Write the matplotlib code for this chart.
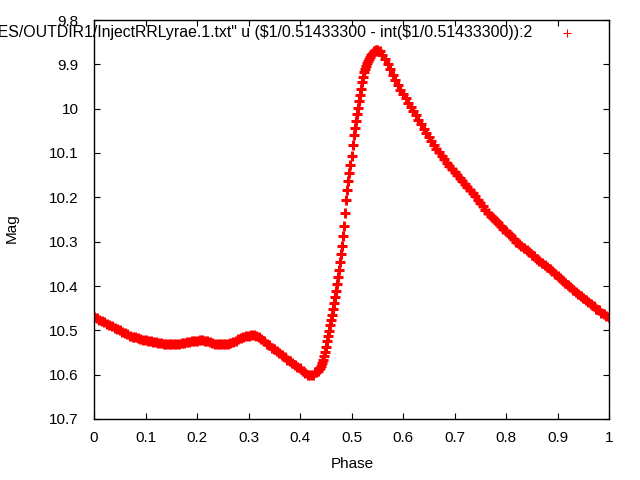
import matplotlib
matplotlib.use('Agg')
import matplotlib.pyplot as plt
import numpy as np

plt.rcParams['font.family'] = ['Liberation Sans', 'DejaVu Sans']

# light curve folded on P = 0.514333 d
phase_flat = [0.000, 0.005, 0.010, 0.015, 0.020, 0.025, 0.030, 0.035, 0.040, 0.045,
              0.050, 0.055, 0.060, 0.065, 0.070, 0.075, 0.080, 0.085, 0.090, 0.095,
              0.100, 0.105, 0.110, 0.115, 0.120, 0.125, 0.130, 0.135, 0.140, 0.145,
              0.150, 0.155, 0.160, 0.165, 0.170, 0.175, 0.180, 0.185, 0.190, 0.195,
              0.200, 0.205, 0.210, 0.215, 0.220, 0.225, 0.230, 0.235, 0.240, 0.245,
              0.250, 0.255, 0.260, 0.265, 0.270, 0.275, 0.280, 0.285, 0.290, 0.295,
              0.300, 0.305, 0.310, 0.315, 0.320, 0.325, 0.330, 0.335, 0.340, 0.345,
              0.350, 0.355, 0.360, 0.365, 0.370, 0.375, 0.380, 0.385, 0.390, 0.395,
              0.400, 0.405, 0.410, 0.415, 0.420, 0.425, 0.430]
mag_flat = [10.470, 10.473, 10.476, 10.479, 10.482, 10.485, 10.487, 10.490, 10.494, 10.497,
            10.500, 10.503, 10.506, 10.509, 10.512, 10.514, 10.516, 10.518, 10.519, 10.521,
            10.522, 10.524, 10.525, 10.526, 10.527, 10.528, 10.529, 10.530, 10.530, 10.531,
            10.531, 10.531, 10.530, 10.530, 10.529, 10.528, 10.527, 10.526, 10.525, 10.524,
            10.523, 10.522, 10.522, 10.523, 10.524, 10.526, 10.528, 10.530, 10.531, 10.531,
            10.531, 10.531, 10.530, 10.528, 10.526, 10.523, 10.520, 10.517, 10.515, 10.513,
            10.512, 10.511, 10.511, 10.512, 10.515, 10.520, 10.525, 10.530, 10.534, 10.539,
            10.543, 10.547, 10.551, 10.556, 10.561, 10.566, 10.570, 10.574, 10.578, 10.582,
            10.586, 10.591, 10.596, 10.600, 10.601, 10.600, 10.595]

phase_rise = [0.432, 0.434, 0.436, 0.438, 0.440, 0.442, 0.444, 0.446, 0.448, 0.450,
              0.452, 0.454, 0.456, 0.458, 0.460, 0.462, 0.464, 0.466, 0.468, 0.470,
              0.472, 0.474, 0.476, 0.478, 0.480, 0.482, 0.484, 0.486, 0.488, 0.490,
              0.492, 0.494, 0.496, 0.498, 0.500, 0.502, 0.504, 0.506, 0.508, 0.510,
              0.512, 0.514, 0.516, 0.518, 0.520, 0.522, 0.524, 0.526, 0.528, 0.530,
              0.532, 0.534, 0.536, 0.538, 0.540, 0.542, 0.544, 0.546, 0.548]
mag_rise = [10.593, 10.591, 10.588, 10.585, 10.580, 10.574, 10.567, 10.558, 10.548, 10.537,
            10.525, 10.513, 10.501, 10.489, 10.477, 10.465, 10.452, 10.439, 10.425, 10.411,
            10.396, 10.380, 10.363, 10.345, 10.327, 10.309, 10.288, 10.264, 10.236, 10.205,
            10.183, 10.163, 10.146, 10.127, 10.106, 10.082, 10.060, 10.043, 10.028, 10.013,
            9.998, 9.983, 9.969, 9.955, 9.940, 9.928, 9.918, 9.910, 9.904, 9.898,
            9.892, 9.887, 9.883, 9.880, 9.877, 9.874, 9.871, 9.869, 9.868]

phase_fall = [0.550, 0.555, 0.560, 0.565, 0.570, 0.575, 0.580, 0.585, 0.590, 0.595,
              0.600, 0.605, 0.610, 0.615, 0.620, 0.625, 0.630, 0.635, 0.640, 0.645,
              0.650, 0.655, 0.660, 0.665, 0.670, 0.675, 0.680, 0.685, 0.690, 0.695,
              0.700, 0.705, 0.710, 0.715, 0.720, 0.725, 0.730, 0.735, 0.740, 0.745,
              0.750, 0.755, 0.760, 0.765, 0.770, 0.775, 0.780, 0.785, 0.790, 0.795,
              0.800, 0.805, 0.810, 0.815, 0.820, 0.825, 0.830, 0.835, 0.840, 0.845,
              0.850, 0.855, 0.860, 0.865, 0.870, 0.875, 0.880, 0.885, 0.890, 0.895,
              0.900, 0.905, 0.910, 0.915, 0.920, 0.925, 0.930, 0.935, 0.940, 0.945,
              0.950, 0.955, 0.960, 0.965, 0.970, 0.975, 0.980, 0.985, 0.990, 0.995,
              1.000]
mag_fall = [9.868, 9.870, 9.878, 9.888, 9.899, 9.911, 9.923, 9.935, 9.946, 9.957,
            9.967, 9.977, 9.987, 9.996, 10.005, 10.015, 10.025, 10.035, 10.045, 10.055,
            10.065, 10.074, 10.082, 10.090, 10.098, 10.106, 10.114, 10.122, 10.129, 10.136,
            10.143, 10.150, 10.157, 10.164, 10.171, 10.177, 10.184, 10.191, 10.198, 10.205,
            10.212, 10.220, 10.228, 10.235, 10.241, 10.247, 10.253, 10.259, 10.265, 10.271,
            10.277, 10.283, 10.288, 10.294, 10.300, 10.305, 10.310, 10.315, 10.319, 10.324,
            10.329, 10.333, 10.338, 10.343, 10.348, 10.353, 10.357, 10.362, 10.367, 10.372,
            10.377, 10.383, 10.388, 10.393, 10.398, 10.403, 10.408, 10.413, 10.417, 10.422,
            10.427, 10.431, 10.436, 10.441, 10.446, 10.451, 10.455, 10.460, 10.464, 10.467,
            10.470]

xticks = [0, 0.1, 0.2, 0.3, 0.4, 0.5, 0.6, 0.7, 0.8, 0.9, 1]
xlabels = ['0', '0.1', '0.2', '0.3', '0.4', '0.5', '0.6', '0.7', '0.8', '0.9', '1']
yticks = [9.8, 9.9, 10.0, 10.1, 10.2, 10.3, 10.4, 10.5, 10.6, 10.7]
ylabels = ['9.8', '9.9', '10', '10.1', '10.2', '10.3', '10.4', '10.5', '10.6', '10.7']

key = '"EXAMPLES/OUTDIR1/InjectRRLyrae.1.txt" u ($1/0.51433300 - int($1/0.51433300)):2'

phase = np.concatenate([phase_flat, phase_rise, phase_fall])
mag = np.concatenate([mag_flat, mag_rise, mag_fall])

fig = plt.figure(figsize=(6.4, 4.8), dpi=100)
ax = fig.add_axes([94/640, 1 - 419/480, (609 - 94)/640, (419 - 20)/480])

ax.plot(phase, mag, linestyle='none', marker='+', color='#ff0000',
        markersize=7.5, markeredgewidth=2.2)

ax.set_xlim(0, 1)
ax.set_ylim(10.7, 9.8)
ax.set_xticks(xticks)
ax.set_xticklabels(xlabels)
ax.set_yticks(yticks)
ax.set_yticklabels(ylabels)
ax.tick_params(direction='in', top=True, right=True, length=4, width=0.8,
               labelsize=11, color='black')
ax.tick_params(axis='x', pad=9)
ax.tick_params(axis='y', pad=11)
for s in ax.spines.values():
    s.set_linewidth(1.0)

fig.text(352/640, 1 - 464/480, 'Phase', ha='center', va='center', fontsize=11)
fig.text(12/640, 1 - 228/480, 'Mag', ha='center', va='center', rotation=90, fontsize=11)

# key, gnuplot style: title right-aligned, sample to its right
fig.text(532/640, 1 - 32/480, key, ha='right', va='center', fontsize=11.4,
         parse_math=False)
ax.plot([567/640], [1 - 33/480], transform=fig.transFigure, clip_on=False,
        linestyle='none', marker='+', color='#ff0000', markersize=6, markeredgewidth=0.8)

fig.savefig('out.png', dpi=100)
